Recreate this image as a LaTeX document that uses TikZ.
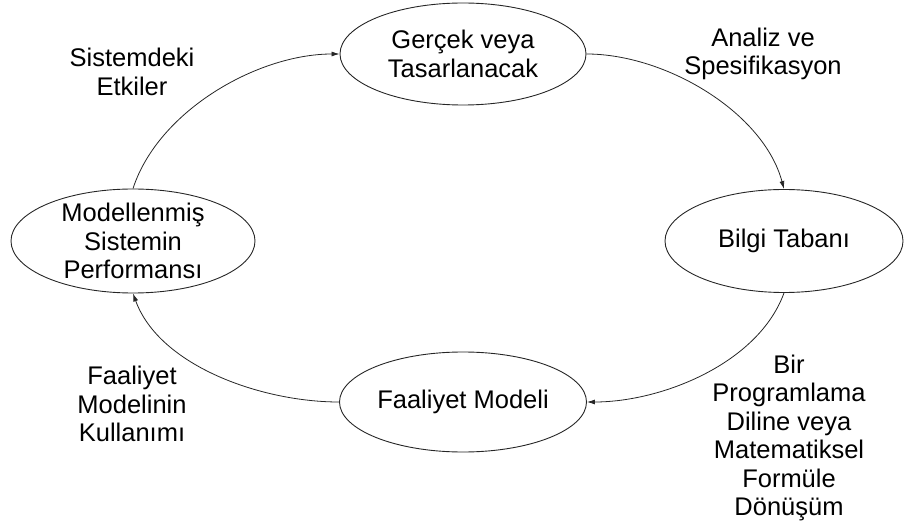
\documentclass[tikz,border=0pt]{standalone}
\usepackage{fontspec}
\setmainfont{Liberation Sans}
\usetikzlibrary{shapes.geometric,arrows.meta}

\tikzset{
  stage/.style={ellipse, draw=black!85, line width=0.9pt, inner sep=0pt,
    minimum width=#1},
  stage/.default=246pt,
  caption/.style={align=center, inner sep=0pt,
    font=\fontsize{25.5}{28.5}\selectfont},
  conn/.style={draw=black!85, line width=0.8pt,
    -{Latex[length=8pt,width=5pt]}},
}

\begin{document}
\begin{tikzpicture}[x=1pt,y=1pt]
  \useasboundingbox (0,0) rectangle (904,-526);

  % the four stages of the cycle
  \node[stage=246pt, minimum height=102pt] (real) at (463,-54) {};
  \node[stage=238pt, minimum height=103pt] (base) at (784,-241) {};
  \node[stage=247pt, minimum height=100pt] (act)  at (463,-402) {};
  \node[stage=244pt, minimum height=104pt] (perf) at (133,-241) {};

  \node[caption] (realtxt) at (real.center) {Gerçek veya\\Tasarlanacak};
  \node[caption] (basetxt) at (base.center) {Bilgi Tabanı};
  \node[caption] (acttxt)  at (act.center)  {Faaliyet Modeli};
  \node[caption] (perftxt) at (perf.center) {Modellenmiş\\Sistemin\\Performansı};

  % transitions between the stages
  \draw[conn] (perf.north) to[out=72, in=180, looseness=0.85] (real.west);
  \draw[conn] (real.east) to[out=0, in=105, looseness=0.85] (base.north);
  \draw[conn] (base.south) to[out=-110, in=0, looseness=0.85] (act.east);
  \draw[conn] (act.west) to[out=180, in=-70, looseness=0.85] (perf.south);

  % edge descriptions
  \node[caption] (lblA) at (132,-72)  {Sistemdeki\\Etkiler};
  \node[caption] (lblB) at (763,-54)  {Analiz ve\\Spesifikasyon};
  \node[caption] (lblC) at (789,-438) {Bir\\Programlama\\Diline veya\\Matematiksel\\Formüle\\Dönüşüm};
  \node[caption] (lblD) at (132,-404) {Faaliyet\\Modelinin\\Kullanımı};
\end{tikzpicture}
\end{document}
